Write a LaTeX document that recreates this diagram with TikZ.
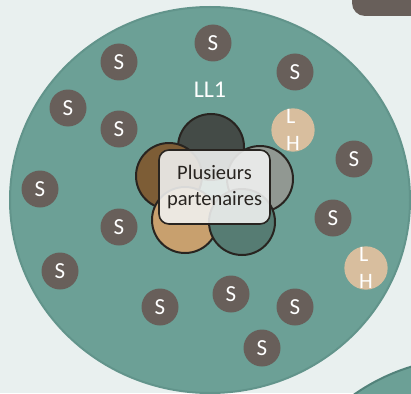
\documentclass[tikz,border=0pt]{standalone}
\usepackage{fontspec}
\setmainfont{Carlito}
\definecolor{paleback}{RGB}{233,240,239}
\definecolor{seagreen}{RGB}{108,160,150}
\definecolor{seaedge}{RGB}{82,130,122}
\definecolor{taupe}{RGB}{104,95,90}
\definecolor{sand}{RGB}{216,190,158}
\definecolor{charcoal}{RGB}{68,75,71}
\definecolor{ash}{RGB}{145,152,146}
\definecolor{umber}{RGB}{125,93,54}
\definecolor{camel}{RGB}{200,160,110}
\definecolor{deepteal}{RGB}{86,124,115}
\definecolor{inkline}{RGB}{40,36,32}

\begin{document}
\begin{tikzpicture}[x=1pt,y=-1pt,
	snode/.style={circle,fill=taupe,text=white,minimum size=37pt,inner sep=0pt,font=\fontsize{23}{23}\selectfont},
	lhnode/.style={circle,fill=sand,text=white,minimum size=43pt,inner sep=0pt,align=left,font=\fontsize{22}{27}\selectfont},
	petal/.style={draw=inkline,line width=2pt}]
							\def\petrad{33}

							\useasboundingbox (0,0) rectangle (411,393);
							\clip (0,0) rectangle (411,393);
							\fill[paleback] (0,0) rectangle (411,393);

							\fill[taupe, rounded corners=13] (352,-20) rectangle (440,16);
							\draw[seagreen!60!seaedge, fill=seagreen, line width=2pt] (210,200) ellipse [x radius=200, y radius=193];
							\draw[seaedge, fill=seagreen, line width=2pt] (470,560) circle (202);

							\foreach \i/\p in {1/{213,43}, 2/{295,72}, 3/{119,62}, 4/{68,108}, 5/{119,129},
								6/{354,159}, 7/{40,189}, 8/{333,218}, 9/{119,227}, 10/{60,271},
								11/{231,294}, 12/{160,307}, 13/{295,307}, 14/{262,348}}
								\node[snode] (s\i) at (\p) {S};

							\node[lhnode] (lh1) at (293,130) {L\\H};
							\node[lhnode] (lh2) at (366,268) {L\\H};

							\node[text=white, font=\fontsize{24}{24}\selectfont] (ll1) at (210,90) {LL1};

							\coordinate (pA) at (211,147);
							\coordinate (pB) at (169,176);
							\coordinate (pC) at (260,179);
							\coordinate (pD) at (185,220);
							\coordinate (pE) at (242,222);
							\draw[petal, fill=charcoal] (pA) circle (\petrad);
							\draw[petal, fill=umber] (pB) circle (\petrad);
							\draw[petal, fill=ash] (pC) circle (\petrad);
							\draw[petal, fill=camel] (pD) circle (\petrad);
							\draw[petal, fill=deepteal] (pE) circle (\petrad);

							\node[draw=inkline, line width=1.6pt, fill=white!88!ash, fill opacity=0.88, text opacity=1,
								text=inkline, rounded corners=10pt, minimum width=111pt, minimum height=74pt,
								inner sep=0pt, align=center, font=\fontsize{20.5}{26}\selectfont]
								(partners) at (214.5,187) {Plusieurs\\partenaires};
						\end{tikzpicture}
\end{document}
